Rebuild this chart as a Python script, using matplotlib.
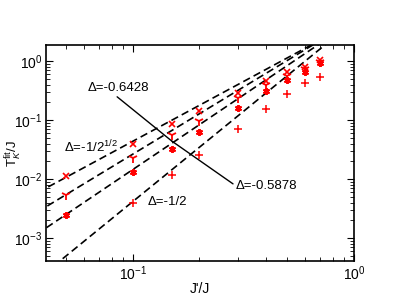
import numpy as np
import matplotlib.pyplot as plt

plt.rcParams['font.family'] = ['Liberation Sans', 'DejaVu Sans']
plt.rcParams['mathtext.fontset'] = 'custom'
plt.rcParams['mathtext.rm'] = 'Liberation Sans'
plt.rcParams['mathtext.it'] = 'Liberation Sans:italic'

# J'/J values and fitted Kondo temperatures
jp = [0.05, 0.1, 0.15, 0.2, 0.3, 0.4, 0.5, 0.6, 0.7]
tk_0707 = [0.0114, 0.040, 0.0855, 0.144, 0.29, 0.457, 0.64, 0.80, 1.04]
tk_06428 = [0.0053, 0.0224, 0.0557, 0.097, 0.235, 0.39, 0.56, 0.72, 0.97]
tk_05878 = [0.00246, 0.0130, 0.0319, 0.0633, 0.161, 0.31, 0.475, 0.66, 0.91]
jp_half = [0.1, 0.15, 0.2, 0.3, 0.4, 0.5, 0.6, 0.7]
tk_05 = [0.0040, 0.0117, 0.0256, 0.0705, 0.153, 0.272, 0.417, 0.54]

# power-law fits T = A * (J'/J)^b
fit_A = [4.6, 4.95, 4.83, 4.7]
fit_b = [2.02, 2.27, 2.52, 3.05]

fig = plt.figure(figsize=(3.99, 3.08), dpi=100)
ax = fig.add_axes([0.1153, 0.1526, 0.7717, 0.7013])

xx = np.logspace(np.log10(0.03), 0, 200)
for A, b in zip(fit_A, fit_b):
    ax.plot(xx, A * xx ** b, color='black', ls=(0, (4.5, 2.5)), lw=1.2)

ax.plot(jp, tk_0707, ls='none', marker='x', color='red', ms=4, mew=1.2)
ax.plot(jp, tk_06428, ls='none', marker='1', color='red', ms=6.5, mew=1.3)
ax.plot(jp, tk_05878, ls='none', marker=(6, 2, 0), color='red', ms=5, mew=1.4)
ax.plot(jp_half, tk_05, ls='none', marker='+', color='red', ms=5.5, mew=1.1)

ax.set_xscale('log')
ax.set_yscale('log')
ax.set_xlim(0.0404, 1)
ax.set_ylim(4.1e-4, 1.87)

ax.tick_params(which='both', direction='in', top=True, right=True, labelsize=10, pad=2.5)
ax.tick_params(which='major', length=5)
ax.tick_params(which='minor', length=3)
for s in ax.spines.values():
    s.set_linewidth(1.2)

ax.set_xlabel("J'/J", fontsize=10)
ax.set_ylabel(r"T$_K^{\rm fit}$/J", fontsize=9.5)
ax.yaxis.set_label_coords(-0.07, 0.5)
ax.xaxis.set_label_coords(0.5, -0.095)

ann = dict(arrowstyle='-', color='black', lw=1, shrinkA=0, shrinkB=0)
ax.annotate('Δ=-0.6428', xy=(0.15, 0.044), xytext=(0.0625, 0.349),
            fontsize=9.5, va='center', ha='left',
            arrowprops=dict(ann, relpos=(0.42, 0.0)))
ax.annotate('Δ=-0.5878', xy=(0.15, 0.044), xytext=(0.292, 0.0077),
            fontsize=9.5, va='center', ha='left',
            arrowprops=dict(ann, relpos=(0.0, 0.5)))
ax.text(0.0488, 0.0349, r'Δ=-1/2$^{1/2}$', fontsize=9.5, va='center', ha='left')
ax.text(0.117, 0.00408, 'Δ=-1/2', fontsize=9.5, va='center', ha='left')

fig.savefig('out.png', dpi=100)
